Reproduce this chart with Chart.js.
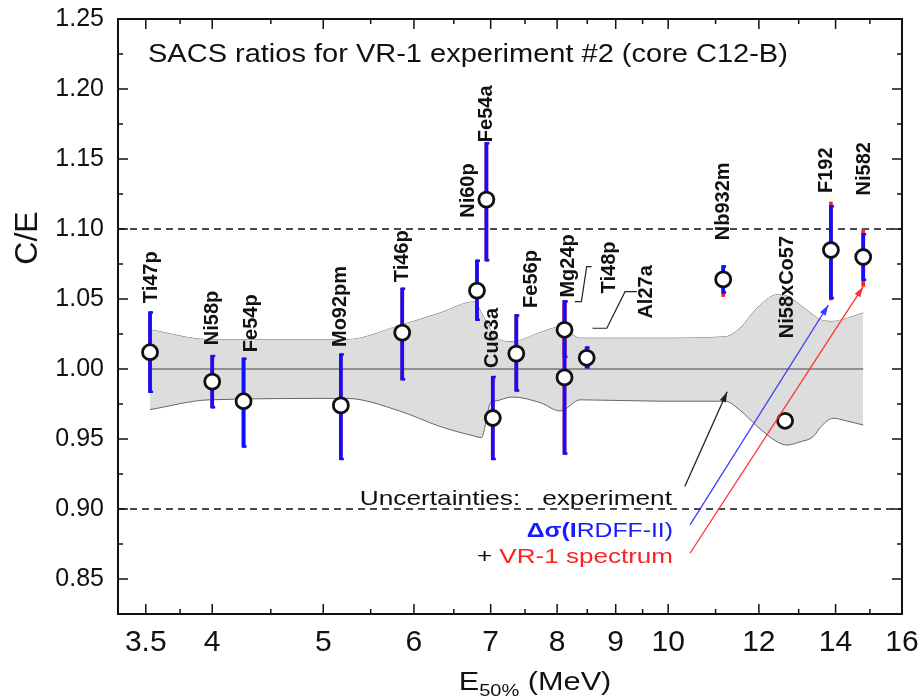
<!DOCTYPE html>
<html>
<head>
<meta charset="utf-8">
<script src="https://cdn.jsdelivr.net/npm/chart.js@4.4.0/dist/chart.umd.min.js"></script>
<style>
  body { margin: 0; background: #fff; }
  .container { width: 920px; height: 698px; }
</style>
</head>
<body>
<div class="container"><canvas id="myChart" width="920" height="698"></canvas></div>
<script>
const reactions = ["Ti47p", "Ni58p", "Fe54p", "Mo92pm", "Ti46p", "Ni60p", "Fe54a", "Cu63a", "Fe56p", "Mg24p", "Ti48p", "Al27a", "Nb932m", "Ni58xCo57", "F192", "Ni582"];
const energies = [3.53, 4.0, 4.26, 5.18, 5.86, 6.81, 6.94, 7.03, 7.37, 8.12, 8.12, 8.49, 11.17, 12.65, 13.87, 14.8];
const ceRatios = [1.012, 0.991, 0.977, 0.974, 1.026, 1.056, 1.121, 0.965, 1.011, 1.028, 0.994, 1.008, 1.064, 0.963, 1.085, 1.080];
// blue bars (experiment + cross section), red = with spectrum
const errLow = [0.983, 0.972, 0.944, 0.935, 0.992, 1.0345, 1.077, 0.935, 0.984, 1.008, 0.939, 1.0005, 1.054, 0.960, 1.050, 1.063];
const errHigh = [1.041, 1.010, 1.008, 1.011, 1.058, 1.078, 1.162, 0.995, 1.039, 1.049, 1.049, 1.016, 1.074, 0.966, 1.117, 1.097];
const totLow = [0.983, 0.972, 0.944, 0.935, 0.992, 1.0345, 1.077, 0.935, 0.984, 1.008, 0.939, 1.0005, 1.0515, 0.958, 1.049, 1.0588];
const totHigh = [1.041, 1.010, 1.008, 1.011, 1.058, 1.078, 1.162, 0.995, 1.039, 1.049, 1.049, 1.016, 1.074, 0.968, 1.1195, 1.100];

const bandEnergies = [3.53, 3.98, 5.24, 5.83, 6.32, 6.78, 6.87, 7.0, 7.06, 7.31, 7.73, 8.05, 8.38, 9.84, 11.21, 11.55, 11.96, 12.45, 12.7, 13.04, 13.38, 13.6, 13.93, 14.3, 14.8];
const bandUpper = [1.028, 1.021, 1.021, 1.031, 1.040, 1.048, 1.040, 1.028, 1.023, 1.0195, 1.026, 1.030, 1.022, 1.022, 1.023, 1.029, 1.0436, 1.053, 1.052, 1.0457, 1.0386, 1.035, 1.034, 1.036, 1.040];
const bandLower = [0.971, 0.978, 0.979, 0.970, 0.959, 0.952, 0.951, 0.976, 0.977, 0.980, 0.976, 0.970, 0.978, 0.977, 0.977, 0.9707, 0.959, 0.948, 0.9457, 0.948, 0.9516, 0.959, 0.9648, 0.963, 0.960];

const xTicks = [3.5, 4, 5, 6, 7, 8, 9, 10, 12, 14, 16];
const xMinorTicks = [3.75, 4.5, 5.5, 6.5, 7.5, 8.5, 9.5, 11, 13, 15];
const yTicks = [0.85, 0.9, 0.95, 1.0, 1.05, 1.1, 1.15, 1.2, 1.25];
const yMinorTicks = [0.875, 0.925, 0.975, 1.025, 1.075, 1.125, 1.175, 1.225];
const limitLines = [0.9, 1.1];

// where each reaction name starts (rotated text)
const labelPos = [[3.54, 1.047], [4.0, 1.017], [4.33, 1.012], [5.18, 1.0157], [5.86, 1.062], [6.69, 1.108], [6.94, 1.162], [7.02, 1.0007], [7.6, 1.0436], [8.19, 1.051], [8.88, 1.054], [9.58, 1.036], [11.17, 1.092], [12.7, 1.022], [13.76, 1.1257], [14.83, 1.124]];
const leaders = [
  [[8.575, 1.0731], [8.49, 1.0731], [8.40, 1.0481], [8.29, 1.0481]],
  [[9.39, 1.0552], [9.17, 1.0552], [8.84, 1.0291], [8.59, 1.0291]],
];
const arrows = [
  { from: [10.34, 0.916], to: [11.26, 0.9838], color: "#222" },
  { from: [10.45, 0.8886], to: [13.8, 1.0457], color: "#3a3aff" },
  { from: [10.45, 0.8684], to: [14.8, 1.0588], color: "#ff3030" },
];

const FONT = "'Liberation Sans', Arial, Helvetica, sans-serif";
Chart.defaults.font.family = FONT;
Chart.defaults.color = "#111";

const arrowLine = (ctx, x1, y1, x2, y2, color) => {
  ctx.save();
  ctx.strokeStyle = color;
  ctx.fillStyle = color;
  ctx.lineWidth = 1.3;
  ctx.beginPath();
  ctx.moveTo(x1, y1);
  ctx.lineTo(x2, y2);
  ctx.stroke();
  const a = Math.atan2(y2 - y1, x2 - x1);
  ctx.beginPath();
  ctx.moveTo(x2, y2);
  ctx.lineTo(x2 - 11 * Math.cos(a - 0.3), y2 - 11 * Math.sin(a - 0.3));
  ctx.lineTo(x2 - 11 * Math.cos(a + 0.3), y2 - 11 * Math.sin(a + 0.3));
  ctx.closePath();
  ctx.fill();
  ctx.restore();
};

// text a bit wider than the font, like the original figure
const wideText = (ctx, text, x, y, sx, align) => {
  ctx.save();
  ctx.translate(x, y);
  ctx.scale(sx, 1);
  ctx.textAlign = align;
  ctx.fillText(text, 0, 0);
  ctx.restore();
  return ctx.measureText(text).width * sx;
};

const decorations = {
  id: "decorations",
  beforeDatasetsDraw(chart) {
    const { ctx, chartArea, scales } = chart;
    ctx.save();
    ctx.strokeStyle = "#111";
    ctx.lineWidth = 1.6;
    ctx.setLineDash([7, 5]);
    for (let v of limitLines) {
      const y = scales.y.getPixelForValue(v);
      ctx.beginPath();
      ctx.moveTo(chartArea.left, y);
      ctx.lineTo(chartArea.right, y);
      ctx.stroke();
    }
    ctx.restore();
  },
  beforeDatasetDraw(chart, args) {
    if (args.index !== 3) return;
    const { ctx, scales } = chart;
    ctx.save();
    for (let i = 0; i < energies.length; i++) {
      const x = scales.x.getPixelForValue(energies[i]);
      ctx.lineWidth = 3.7;
      ctx.strokeStyle = "#ff2020";
      ctx.beginPath();
      ctx.moveTo(x, scales.y.getPixelForValue(totLow[i]));
      ctx.lineTo(x, scales.y.getPixelForValue(totHigh[i]));
      ctx.stroke();
      const lo = scales.y.getPixelForValue(errLow[i]);
      const hi = scales.y.getPixelForValue(errHigh[i]);
      ctx.strokeStyle = "#1010ff";
      ctx.beginPath();
      ctx.moveTo(x, lo);
      ctx.lineTo(x, hi);
      ctx.stroke();
      ctx.lineWidth = 2.5;
      ctx.beginPath();
      ctx.moveTo(x - 1, hi + 1);
      ctx.lineTo(x + 3, hi + 1);
      ctx.moveTo(x - 1, lo - 1);
      ctx.lineTo(x + 3, lo - 1);
      ctx.stroke();
    }
    ctx.restore();
  },
  afterDatasetsDraw(chart) {
    const { ctx, scales } = chart;
    const px = (p) => [scales.x.getPixelForValue(p[0]), scales.y.getPixelForValue(p[1])];
    ctx.save();
    ctx.fillStyle = "#111";
    ctx.font = "bold 20px " + FONT;
    ctx.textAlign = "left";
    ctx.textBaseline = "middle";
    for (let i = 0; i < reactions.length; i++) {
      const [x, y] = px(labelPos[i]);
      ctx.save();
      ctx.translate(x, y);
      ctx.rotate(-Math.PI / 2);
      ctx.fillText(reactions[i], 0, 0);
      ctx.restore();
    }
    ctx.strokeStyle = "#222";
    ctx.lineWidth = 1.2;
    for (let l of leaders) {
      ctx.beginPath();
      l.forEach((p, k) => {
        const [x, y] = px(p);
        k === 0 ? ctx.moveTo(x, y) : ctx.lineTo(x, y);
      });
      ctx.stroke();
    }
    for (let a of arrows) {
      const [x1, y1] = px(a.from);
      const [x2, y2] = px(a.to);
      arrowLine(ctx, x1, y1, x2, y2, a.color);
    }

    // title and key
    ctx.textBaseline = "alphabetic";
    ctx.font = "25px " + FONT;
    ctx.fillStyle = "#111";
    wideText(ctx, "SACS ratios for VR-1 experiment #2 (core C12-B)", 148, 62, 1.16, "left");

    ctx.font = "21px " + FONT;
    wideText(ctx, "Uncertainties:   experiment", 672, 505, 1.25, "right");
    ctx.fillStyle = "#1a1aff";
    const w1 = wideText(ctx, "RDFF-II)", 673, 537, 1.18, "right");
    ctx.font = "bold 21px " + FONT;
    wideText(ctx, "\u0394\u03c3(I", 673 - w1, 537, 1.18, "right");
    ctx.font = "21px " + FONT;
    ctx.fillStyle = "#ff2020";
    const w2 = wideText(ctx, "VR-1 spectrum", 673, 563, 1.24, "right");
    ctx.fillStyle = "#111";
    wideText(ctx, "+ ", 673 - w2, 563, 1.24, "right");
    ctx.restore();
  },
  afterDraw(chart) {
    const { ctx, chartArea: a, scales } = chart;
    ctx.save();
    ctx.strokeStyle = "#111";
    ctx.lineWidth = 1.5;
    ctx.beginPath();
    const tick = (vals, len) => {
      for (let v of vals) {
        const x = scales.x.getPixelForValue(v);
        ctx.moveTo(x, a.bottom);
        ctx.lineTo(x, a.bottom - len);
        ctx.moveTo(x, a.top);
        ctx.lineTo(x, a.top + len);
      }
    };
    const ytick = (vals, len) => {
      for (let v of vals) {
        const y = scales.y.getPixelForValue(v);
        ctx.moveTo(a.left, y);
        ctx.lineTo(a.left + len, y);
        ctx.moveTo(a.right, y);
        ctx.lineTo(a.right - len, y);
      }
    };
    tick(xTicks, 10);
    tick(xMinorTicks, 5);
    ytick(yTicks, 10);
    ytick(yMinorTicks, 5);
    ctx.stroke();
    ctx.lineWidth = 2;
    ctx.strokeRect(a.left, a.top, a.right - a.left, a.bottom - a.top);

    // axis titles
    ctx.fillStyle = "#111";
    ctx.textBaseline = "alphabetic";
    ctx.save();
    ctx.translate(37, 238);
    ctx.rotate(-Math.PI / 2);
    ctx.textAlign = "center";
    ctx.font = "32px " + FONT;
    ctx.fillText("C/E", 0, 0);
    ctx.restore();

    const sx = 1.18;
    ctx.font = "26px " + FONT;
    const we = ctx.measureText("E").width * sx;
    const wr = ctx.measureText(" (MeV)").width * sx;
    ctx.font = "17px " + FONT;
    const ws = ctx.measureText("50%").width * sx;
    const x0 = 535 - (we + ws + wr) / 2;
    ctx.font = "26px " + FONT;
    wideText(ctx, "E", x0, 690, sx, "left");
    ctx.font = "17px " + FONT;
    wideText(ctx, "50%", x0 + we, 696, sx, "left");
    ctx.font = "26px " + FONT;
    wideText(ctx, " (MeV)", x0 + we + ws, 690, sx, "left");
    ctx.restore();
  },
};

new Chart(document.getElementById("myChart").getContext("2d"), {
  type: "scatter",
  data: {
    datasets: [
      {
        type: "line",
        order: 4,
        data: bandEnergies.map((x, i) => ({ x, y: bandUpper[i] })),
        borderColor: "#666",
        borderWidth: 1,
        pointRadius: 0,
        cubicInterpolationMode: "monotone",
        fill: false,
      },
      {
        type: "line",
        order: 3,
        data: bandEnergies.map((x, i) => ({ x, y: bandLower[i] })),
        borderColor: "#666",
        borderWidth: 1,
        backgroundColor: "#dcdddc",
        pointRadius: 0,
        cubicInterpolationMode: "monotone",
        fill: "-1",
      },
      {
        type: "line",
        order: 2,
        data: [
          { x: bandEnergies[0], y: 1 },
          { x: bandEnergies[bandEnergies.length - 1], y: 1 },
        ],
        borderColor: "#444",
        borderWidth: 1.2,
        pointRadius: 0,
        fill: false,
      },
      {
        order: 1,
        data: energies.map((x, i) => ({ x, y: ceRatios[i] })),
        pointRadius: 7.5,
        pointBorderWidth: 2.8,
        pointBorderColor: "#111",
        pointBackgroundColor: "#fff",
        showLine: false,
      },
    ],
  },
  options: {
    responsive: false,
    animation: false,
    events: [],
    layout: { padding: { top: 19, right: 18, left: 0, bottom: 0 } },
    plugins: { legend: { display: false }, tooltip: { enabled: false } },
    scales: {
      x: {
        type: "logarithmic",
        min: 3.31,
        max: 16,
        grid: { display: false, drawTicks: false },
        border: { display: false },
        afterBuildTicks: (s) => {
          s.ticks = xTicks.map((v) => ({ value: v }));
        },
        afterFit: (s) => {
          s.height = 84;
          s.paddingLeft = 0;
          s.paddingRight = 0;
        },
        ticks: {
          autoSkip: false,
          maxRotation: 0,
          padding: 11,
          font: { size: 30 },
          color: "#111",
          callback: (v) => String(v),
        },
      },
      y: {
        min: 0.825,
        max: 1.25,
        grid: { display: false, drawTicks: false },
        border: { display: false },
        afterBuildTicks: (s) => {
          s.ticks = yTicks.map((v) => ({ value: v }));
        },
        afterFit: (s) => {
          s.width = 118;
          s.paddingTop = 0;
          s.paddingBottom = 0;
        },
        ticks: {
          padding: 14,
          font: { size: 25 },
          color: "#111",
          callback: (v) => v.toFixed(2),
        },
      },
    },
  },
  plugins: [decorations],
});
</script>
</body>
</html>
